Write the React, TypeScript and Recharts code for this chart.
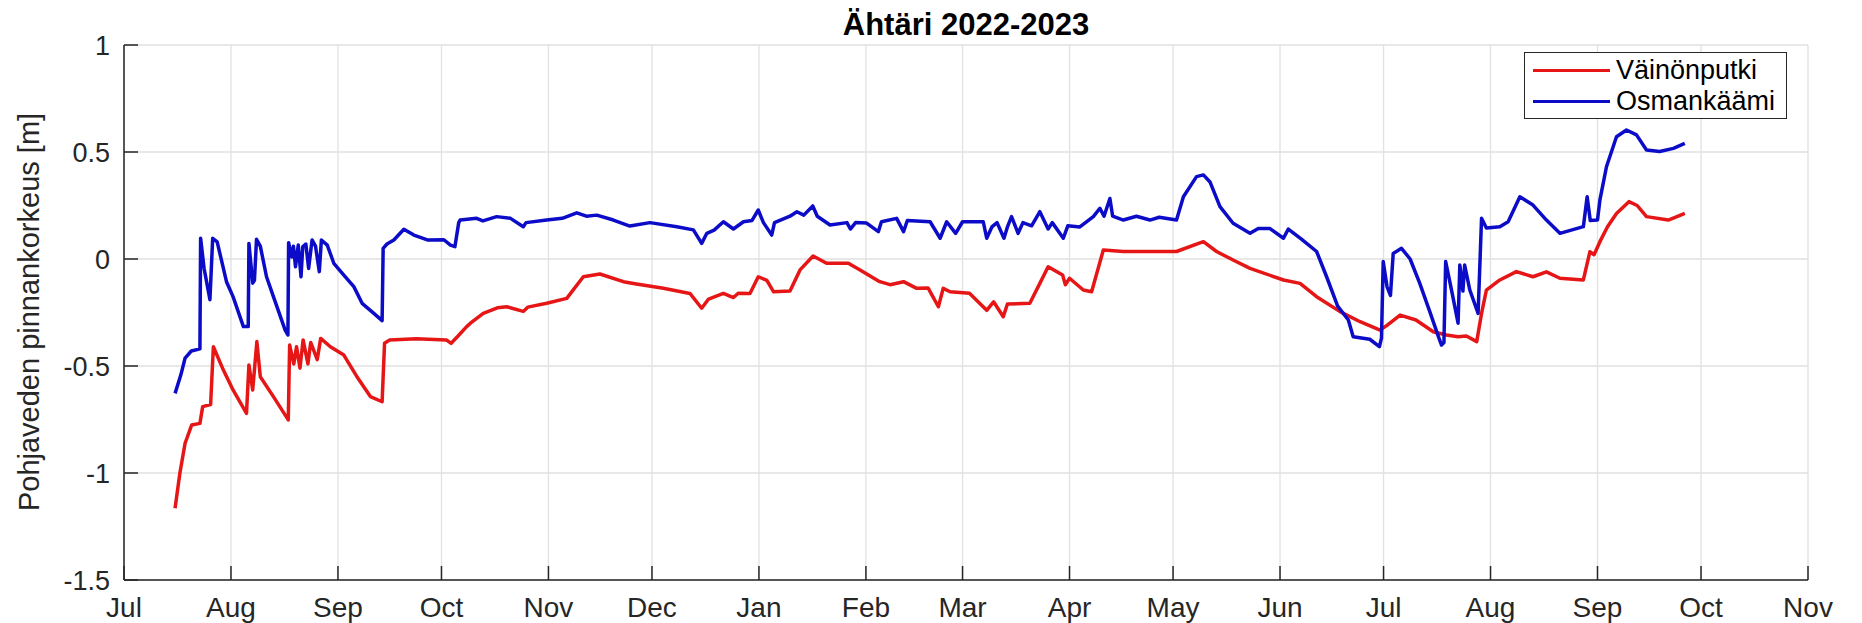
import { LineChart, Line, XAxis, YAxis, CartesianGrid } from 'recharts';

document.body.style.margin = '0';

// days counted from 1 Jul 2022
const monthTicks = [0, 31, 62, 92, 123, 153, 184, 215, 243, 274, 304, 335, 365, 396, 427, 457, 488];
const monthLabels = ['Jul', 'Aug', 'Sep', 'Oct', 'Nov', 'Dec', 'Jan', 'Feb', 'Mar', 'Apr', 'May', 'Jun', 'Jul', 'Aug', 'Sep', 'Oct', 'Nov'];
const levelTicks = [-1.5, -1, -0.5, 0, 0.5, 1];

const seriesNames = ['Väinönputki', 'Osmankäämi'];
const seriesColors = ['#e61616', '#0c0cc8'];

const vainonDays = [
  14.8, 16.2, 17.7, 19.6, 22.0, 22.8, 25.1, 25.9, 28.8, 31.6, 35.5, 36.2, 37.3, 38.5, 39.5, 43.3,
  47.6, 48.0, 49.2, 50.0, 51.0, 51.9, 53.3, 54.1, 56.0, 57.0, 59.8, 63.7, 67.5, 71.4, 74.8, 75.5,
  77.0, 84.7, 93.4, 94.8, 96.6, 99.3, 100.4, 104.1, 108.2, 110.9, 115.7, 117, 122.5, 128.3, 133.1,
  137.9, 144.7, 148.5, 156.3, 164.0, 167.4, 169.4, 173.7, 176.6, 178, 181.4, 183.8, 186.3, 188.2,
  193.0, 195.9, 199.7, 203.6, 209.9, 213.3, 219.0, 222, 225.9, 229.7, 233, 236.0, 237.4, 239.4,
  245, 250.0, 252, 254.8, 256, 262.5, 265.4, 267.8, 272.0, 272.8, 274, 278.0, 280.4, 283.8, 289.6,
  297.3, 305.0, 312.8, 316.6, 321.4, 326.3, 336.0, 340.8, 345.6, 352.4, 358.2, 364.0, 366, 369.8,
  374.4, 379.4, 383.2, 386.6, 389, 392.0, 393.4, 394.8, 398.7, 403.5, 408.3, 412.2, 416.1, 422.9,
  424.8, 426, 427.7, 429.9, 432.5, 436.1, 438.5, 441.2, 447.5, 449.5, 452.3,
];
const vainonLevels = [
  -1.165, -1.0, -0.861, -0.776, -0.768, -0.69, -0.68, -0.41, -0.519, -0.612, -0.721, -0.495, -0.612, -0.386, -0.55, -0.643,
  -0.752, -0.402, -0.49, -0.41, -0.51, -0.378, -0.49, -0.39, -0.47, -0.371, -0.41, -0.449, -0.55, -0.643, -0.667, -0.394,
  -0.378, -0.373, -0.378, -0.394, -0.363, -0.316, -0.3, -0.254, -0.228, -0.223, -0.245, -0.225, -0.207, -0.184, -0.083,
  -0.07, -0.106, -0.117, -0.137, -0.161, -0.23, -0.187, -0.161, -0.18, -0.16, -0.161, -0.083, -0.1, -0.153,
  -0.15, -0.051, 0.014, -0.02, -0.02, -0.051, -0.106, -0.12, -0.106, -0.137, -0.135, -0.223, -0.137, -0.153,
  -0.16, -0.24, -0.2, -0.27, -0.21, -0.207, -0.114, -0.036, -0.075, -0.12, -0.09, -0.145, -0.153, 0.042, 0.035,
  0.035, 0.035, 0.081, 0.035, -0.005, -0.044, -0.098, -0.114, -0.176, -0.246, -0.293, -0.332, -0.31, -0.262,
  -0.285, -0.34, -0.355, -0.363, -0.36, -0.386, -0.254, -0.145, -0.098, -0.059, -0.083, -0.06, -0.09, -0.098,
  0.034, 0.02, 0.081, 0.151, 0.213, 0.268, 0.25, 0.198, 0.182, 0.195, 0.213,
];

const osmanDays = [
  14.8, 16.5, 17.7, 19.5, 22.0, 22.2, 23.2, 24.9, 25.7, 27.0, 29.7, 31.6, 34.6, 36.0, 36.2, 37.3,
  37.8, 38.4, 39.5, 41.3, 43.3, 46.7, 47.5, 47.7, 48.6, 49.1, 49.7, 50.5, 51.3, 51.8, 52.7, 53.5,
  54.5, 55.5, 56.6, 57.2, 58.9, 60.8, 63.7, 66.6, 69.0, 72.4, 74.8, 75.1, 76.2, 78.2, 81.1, 84.0,
  87.9, 92.7, 94.6, 95.9, 97.0, 97.4, 102.2, 104, 108.0, 112, 115.7, 116.5, 122.5, 127, 131.2, 134,
  137.0, 141.8, 146.6, 152.4, 160.2, 165.0, 167.4, 168.9, 171, 173.7, 176.6, 179.5, 182, 183.8, 185.3,
  187.7, 188.5, 193, 195.0, 197, 199.6, 200.9, 204.6, 209.5, 210.5, 212, 215.2, 218.6, 219.5, 223.9,
  225.9, 227, 233.6, 236.5, 238.4, 241, 243, 249.0, 250.0, 251.5, 253, 255.0, 256, 257.2, 259.1,
  260.5, 263, 265.4, 267.8, 269, 272.2, 273.5, 277, 280.9, 282.8, 284, 285.7, 286.5, 289.6, 293.4,
  297.3, 300, 305.0, 307.0, 310.8, 312.8, 314.7, 317.6, 321.4, 326.3, 328.7, 332, 336, 337.4, 341.2,
  345.6, 348.5, 351.7, 354.8, 356.2, 361.0, 363.8, 364.4, 364.9, 366.0, 367.0, 367.8, 370.2, 372.7,
  375.5, 378.4, 380.9, 381.8, 382.5, 383.0, 384.7, 386.6, 387.1, 388, 388.5, 390.0, 392.4, 393.4,
  394.8, 398.7, 401.1, 404.5, 408.3, 412.2, 416.1, 422.9, 424.0, 424.9, 427.0, 427.7, 429.6, 432.5,
  435.4, 438.3, 441.2, 445.0, 449.0, 452.3,
];
const osmanLevels = [
  -0.628, -0.54, -0.463, -0.43, -0.42, 0.097, -0.043, -0.19, 0.097, 0.08, -0.106, -0.176, -0.316, -0.316, 0.073, -0.113,
  -0.1, 0.092, 0.06, -0.083, -0.176, -0.332, -0.355, 0.076, 0.01, 0.06, -0.036, 0.065, -0.083, 0.057, 0.07, -0.044,
  0.089, 0.06, -0.059, 0.089, 0.065, -0.02, -0.075, -0.129, -0.207, -0.254, -0.288, 0.05, 0.07, 0.089, 0.139, 0.112,
  0.089, 0.09, 0.065, 0.058, 0.17, 0.182, 0.19, 0.178, 0.198, 0.19, 0.151, 0.17, 0.182, 0.19, 0.216, 0.2,
  0.205, 0.182, 0.154, 0.17, 0.151, 0.136, 0.073, 0.12, 0.135, 0.174, 0.14, 0.174, 0.18, 0.229, 0.17,
  0.112, 0.17, 0.2, 0.221, 0.205, 0.248, 0.2, 0.159, 0.17, 0.14, 0.17, 0.168, 0.128, 0.174, 0.19,
  0.128, 0.18, 0.174, 0.097, 0.174, 0.12, 0.174, 0.174, 0.097, 0.15, 0.17, 0.097, 0.15, 0.198, 0.12,
  0.17, 0.155, 0.221, 0.14, 0.17, 0.097, 0.155, 0.15, 0.198, 0.237, 0.2, 0.283, 0.2, 0.182, 0.2,
  0.182, 0.195, 0.182, 0.291, 0.385, 0.393, 0.36, 0.245, 0.167, 0.12, 0.143, 0.143, 0.097, 0.14, 0.093,
  0.035, -0.083, -0.22, -0.285, -0.363, -0.375, -0.41, -0.37, -0.012, -0.129, -0.17, 0.026, 0.05, 0.0,
  -0.114, -0.246, -0.363, -0.402, -0.39, -0.012, -0.145, -0.3, -0.028, -0.15, -0.028, -0.145, -0.254, 0.19,
  0.145, 0.151, 0.174, 0.291, 0.252, 0.182, 0.12, 0.151, 0.291, 0.18, 0.182, 0.276, 0.431, 0.571,
  0.603, 0.58, 0.509, 0.502, 0.517, 0.54,
];

const toRows = (days: number[], levels: number[]) => days.map((t, i) => ({ t, v: levels[i] }));
const vainonRows = toRows(vainonDays, vainonLevels);
const osmanRows = toRows(osmanDays, osmanLevels);

const FONT = '"Liberation Sans", Arial, Helvetica, sans-serif';
const AXIS = '#262626';

const XTick = (props: any) => {
  const { x, y, payload } = props;
  const i = monthTicks.indexOf(payload.value);
  return (
    <g>
      <line x1={x} x2={x} y1={y} y2={y - 14} stroke={AXIS} strokeWidth={1.5} />
      <text x={x} y={y + 37} textAnchor="middle" fontSize={28} fill={AXIS} fontFamily={FONT}>
        {monthLabels[i]}
      </text>
    </g>
  );
};

const YTick = (props: any) => {
  const { x, y, payload } = props;
  return (
    <g>
      <line x1={x} x2={x + 14} y1={y} y2={y} stroke={AXIS} strokeWidth={1.5} />
      <text x={x - 14} y={y} dy="0.36em" textAnchor="end" fontSize={27} fill={AXIS} fontFamily={FONT}>
        {String(payload.value)}
      </text>
    </g>
  );
};

export default function App() {
  return (
    <div style={{ position: 'relative', width: 1862, height: 623, background: '#fff', fontFamily: FONT }}>
      <LineChart width={1862} height={623} margin={{ top: 45, right: 54, bottom: 0, left: 24 }}>
        <CartesianGrid stroke="#e1e1e1" strokeWidth={1.3} />
        <XAxis
          dataKey="t"
          type="number"
          domain={[0, 488]}
          ticks={monthTicks}
          interval={0}
          height={43}
          tickSize={0}
          tickMargin={0}
          tickLine={false}
          axisLine={{ stroke: AXIS, strokeWidth: 1.5 }}
          tick={XTick}
          allowDataOverflow
        />
        <YAxis
          dataKey="v"
          type="number"
          domain={[-1.5, 1]}
          ticks={levelTicks}
          interval={0}
          width={100}
          tickSize={0}
          tickMargin={0}
          tickLine={false}
          axisLine={{ stroke: AXIS, strokeWidth: 1.5 }}
          tick={YTick}
          allowDataOverflow
        />
        <Line
          data={vainonRows}
          dataKey="v"
          name={seriesNames[0]}
          type="linear"
          stroke={seriesColors[0]}
          strokeWidth={3.5}
          strokeLinejoin="round"
          dot={false}
          activeDot={false}
          isAnimationActive={false}
        />
        <Line
          data={osmanRows}
          dataKey="v"
          name={seriesNames[1]}
          type="linear"
          stroke={seriesColors[1]}
          strokeWidth={3.5}
          strokeLinejoin="round"
          dot={false}
          activeDot={false}
          isAnimationActive={false}
        />
      </LineChart>

      <svg width={1862} height={623} style={{ position: 'absolute', left: 0, top: 0, pointerEvents: 'none' }}>
        <text x={966} y={35} textAnchor="middle" fontSize={31} fontWeight="bold" fill="#000" fontFamily={FONT}>
          Ähtäri 2022-2023
        </text>
        <text
          transform="translate(39,312) rotate(-90)"
          textAnchor="middle"
          fontSize={29}
          fill={AXIS}
          fontFamily={FONT}
        >
          Pohjaveden pinnankorkeus [m]
        </text>
      </svg>

      <div
        style={{
          position: 'absolute',
          left: 1524,
          top: 52,
          width: 263,
          height: 67,
          boxSizing: 'border-box',
          border: `1.5px solid ${AXIS}`,
          background: '#fff',
        }}
      >
        {seriesNames.map((name, i) => (
          <div
            key={name}
            style={{
              position: 'absolute',
              left: 8,
              top: 2 + i * 31,
              height: 31,
              display: 'flex',
              alignItems: 'center',
            }}
          >
            <div style={{ width: 77, height: 3, background: seriesColors[i] }} />
            <span style={{ marginLeft: 6, fontSize: 27, color: '#000', lineHeight: '31px', whiteSpace: 'nowrap' }}>
              {name}
            </span>
          </div>
        ))}
      </div>
    </div>
  );
}
